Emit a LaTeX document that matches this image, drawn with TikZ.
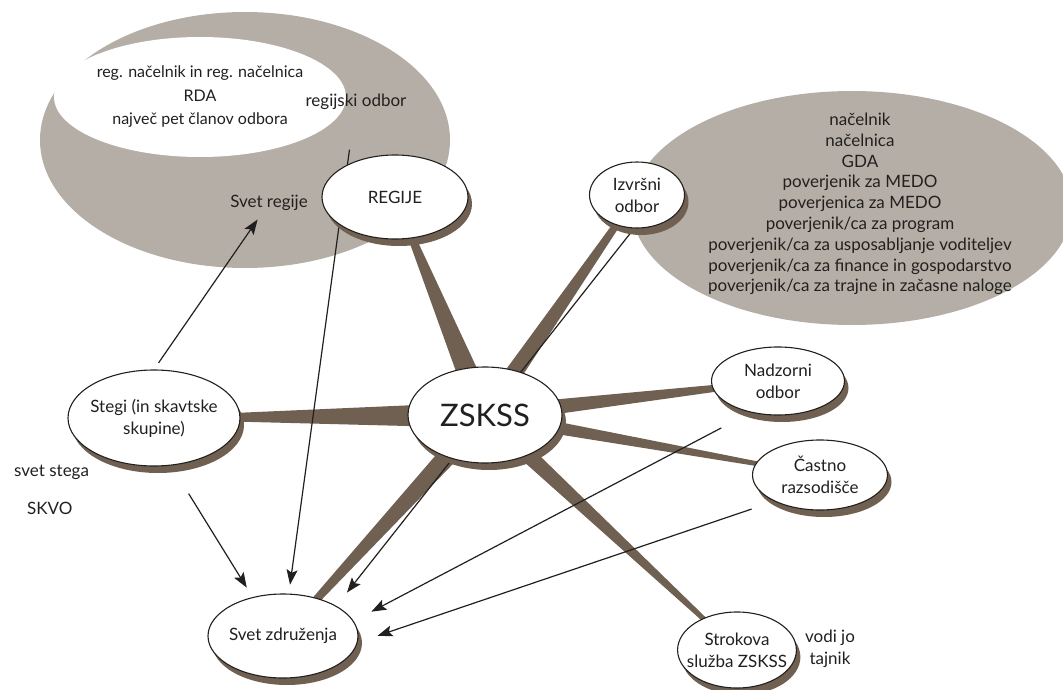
\documentclass[tikz,border=0pt]{standalone}
\usepackage{fontspec}
\setmainfont{Lato}
\usetikzlibrary{shapes.geometric,shadows,arrows.meta,calc}
\pgfdeclarelayer{blobs}
\pgfdeclarelayer{links}
\pgfsetlayers{blobs,links,main}
\definecolor{spokebrown}{RGB}{112,96,82}
\definecolor{blobgray}{RGB}{180,174,166}
\definecolor{inkdark}{RGB}{34,32,30}

\begin{document}
\begin{tikzpicture}[x=1pt, y=-1pt,
    unit/.style={ellipse, draw=inkdark, line width=1.1pt, fill=white,
      inner sep=-8pt, align=center, text=inkdark,
      font=\fontsize{17}{22}\selectfont,
      drop shadow={shadow xshift=4pt, shadow yshift=-7pt,
        fill=spokebrown, opacity=1}},
    blob/.style={ellipse, fill=blobgray, inner sep=0pt, text=inkdark},
    lbl/.style={font=\fontsize{17}{22}\selectfont, text=inkdark, inner sep=2pt},
    arr/.style={-{Stealth[length=15pt,width=11pt,inset=3pt]}, line width=1.2pt,
      draw=inkdark}]

  \useasboundingbox (0,0) rectangle (1063,690);

  \begin{pgfonlayer}{blobs}
    \node[blob, minimum width=410pt, minimum height=256pt]
      (regblob) at (245,140) {};
    \node[blob, minimum width=440pt, minimum height=234pt] (iob) at (852,208) {};
    \node[align=center, text=inkdark, font=\fontsize{17}{20.8}\selectfont]
      (iobtxt) at (860,204) {načelnik\\načelnica\\GDA\\poverjenik za MEDO\\
        poverjenica za MEDO\\poverjenik/ca za program\\
        poverjenik/ca za usposabljanje voditeljev\\
        poverjenik/ca za finance in gospodarstvo\\
        poverjenik/ca za trajne in začasne naloge};
  \end{pgfonlayer}

  \node[ellipse, fill=white, inner sep=0pt, minimum width=256pt,
    minimum height=120pt, align=center, text=inkdark,
    font=\fontsize{16}{23.5}\selectfont]
    (rda) at (200,97) {reg. načelnik in reg. načelnica\\RDA\\največ pet članov odbora};

  \node[lbl] (rodb) at (356,102) {regijski odbor};
  \node[lbl] (sreg) at (269,203) {Svet regije};
  \node[lbl, anchor=west] (sstega) at (12,472) {svet stega};
  \node[lbl, anchor=west] (skvo) at (25,508) {SKVO};
  \node[lbl, align=center] (tajnik) at (830,649) {vodi jo\\tajnik};

  \node[unit, minimum width=146pt, minimum height=84pt] (reg) at (395,197) {REGIJE};
  \node[unit, minimum width=95pt, minimum height=66pt] (izv) at (637,195) {Izvršni\\odbor};
  \node[unit, minimum width=154pt, minimum height=96pt,
    font=\fontsize{31}{36}\selectfont] (zs) at (485,415) {ZSKSS};
  \node[unit, minimum width=172pt, minimum height=96pt] (stegi) at (154,418)
    {Stegi (in skavtske\\skupine)};
  \node[unit, minimum width=133pt, minimum height=68pt] (nad) at (778,381) {Nadzorni\\odbor};
  \node[unit, minimum width=135pt, minimum height=70pt] (cas) at (820,475) {Častno\\razsodišče};
  \node[unit, minimum width=150pt, minimum height=84pt] (svet) at (283,636) {Svet združenja};
  \node[unit, minimum width=112pt, minimum height=76pt] (strok) at (737,650)
    {Strokova\\služba ZSKSS};

  \begin{pgfonlayer}{links}
    \foreach \n/\wa/\wb in {reg/12.5pt/1.75pt, izv/10pt/2.5pt, stegi/13pt/1.5pt,
        nad/9pt/2pt, cas/7.5pt/1.2pt, strok/9pt/1.5pt, svet/11pt/2.5pt}
      \fill[spokebrown] ($(zs)!\wa!90:(\n)$) -- ($(\n)!\wb!-90:(zs)$)
        -- ($(\n)!\wb!90:(zs)$) -- ($(zs)!\wa!-90:(\n)$) -- cycle;

    \draw[arr, shorten <=8pt, shorten >=8pt] (stegi.north) -- (sreg);
    \draw[arr, shorten <=33pt, shorten >=11pt] (stegi.-70) -- (svet.128);
    \draw[arr, shorten <=38pt, shorten >=9pt] (rodb) -- (svet);
    \draw[arr, shorten >=17pt] (izv.265) -- (svet.north east);
    \draw[arr, shorten <=33pt, shorten >=20pt] (nad.229) -- (svet.12);
    \draw[arr, shorten <=24pt, shorten >=21pt] (cas.210) -- (svet.-5);
  \end{pgfonlayer}
\end{tikzpicture}
\end{document}
